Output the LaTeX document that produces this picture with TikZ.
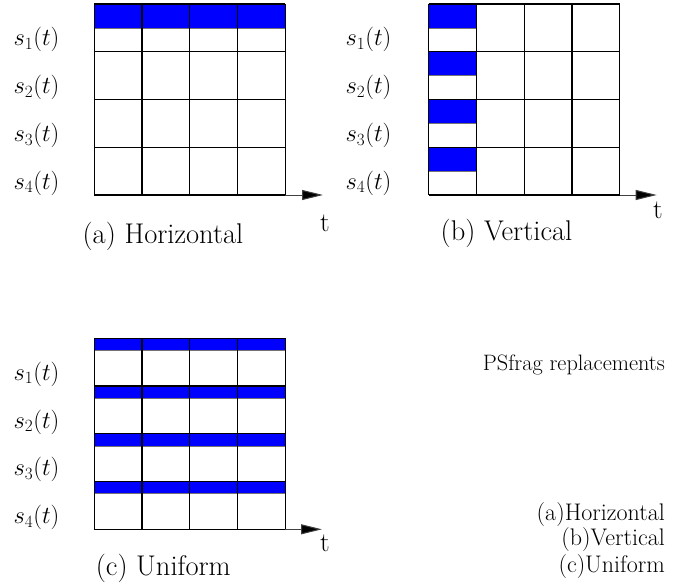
\RequirePackage{fix-cm}
\documentclass[tikz,border=0pt]{standalone}
\usepackage[no-math]{fontspec}
\usetikzlibrary{arrows.meta}
\definecolor{fillblue}{RGB}{0,0,255}
\tikzset{
  gridline/.style={line width=1.2pt, black},
  halfline/.style={line width=0.6pt, black!55},
  bluecell/.style={fill=fillblue},
  timeaxis/.style={line width=1pt, black!75, -{Triangle[length=21pt,width=10pt,fill=black]}},
  siglabel/.style={inner sep=0pt, anchor=base, font=\fontsize{24.5}{28}\selectfont},
  caption/.style={inner sep=0pt, anchor=base, font=\fontsize{28.5}{32}\selectfont},
  tlabel/.style={inner sep=0pt, anchor=base, font=\fontsize{27}{32}\selectfont},
  sidehead/.style={inner sep=0pt, anchor=base east, font=\fontsize{22.3}{27}\selectfont},
  sidetext/.style={inner sep=0pt, anchor=base east, font=\fontsize{24}{27}\selectfont},
}
\begin{document}
\begin{tikzpicture}[x=1pt,y=-1pt]
\useasboundingbox (0,0) rectangle (680,586);
\def\cw{47.75}
% ---------- (a) Horizontal ----------
\fill[bluecell] (94.3,4) rectangle (285.3,28);
\draw[halfline] (94.3,28) -- (285.3,28);
\foreach \i in {0,...,4} {
  \draw[gridline] (94.3+\i*\cw,4) -- (94.3+\i*\cw,195);
  \draw[gridline] (94.3,4+\i*\cw) -- (285.3,4+\i*\cw);
}
\coordinate (aO) at (285.3,195);
\coordinate (aT) at (323,195);
\draw[timeaxis] (aO) -- (aT);
\node[siglabel] (as1) at (36.5,46) {$s_1(t)$};
\node[siglabel] (as2) at (36.5,93.75) {$s_2(t)$};
\node[siglabel] (as3) at (36.5,141.5) {$s_3(t)$};
\node[siglabel] (as4) at (36.5,189.25) {$s_4(t)$};
\node[tlabel] (at) at (325,231.7) {t};
\node[caption] (acap) at (163,243.3) {(a) Horizontal};
% ---------- (b) Vertical ----------
\foreach \r in {0,...,3} {
  \fill[bluecell] (428.7,4+\r*\cw) rectangle (476.45,28+\r*\cw);
  \draw[halfline] (428.7,28+\r*\cw) -- (476.45,28+\r*\cw);
}
\foreach \i in {0,...,4} {
  \draw[gridline] (428.7+\i*\cw,4) -- (428.7+\i*\cw,195);
  \draw[gridline] (428.7,4+\i*\cw) -- (619.7,4+\i*\cw);
}
\coordinate (bO) at (619.7,195);
\coordinate (bT) at (656.7,195);
\draw[timeaxis] (bO) -- (bT);
\node[siglabel] (bs1) at (368.5,46) {$s_1(t)$};
\node[siglabel] (bs2) at (368.5,93.75) {$s_2(t)$};
\node[siglabel] (bs3) at (368.5,141.5) {$s_3(t)$};
\node[siglabel] (bs4) at (368.5,189.25) {$s_4(t)$};
\node[tlabel] (bt) at (658,218.3) {t};
\node[caption] (bcap) at (506.5,240) {(b) Vertical};
% ---------- (c) Uniform ----------
\foreach \r in {0,...,3} {
  \fill[bluecell] (94.3,338.3+\r*\cw) rectangle (285.3,350.3+\r*\cw);
  \draw[halfline] (94.3,350.3+\r*\cw) -- (285.3,350.3+\r*\cw);
}
\foreach \i in {0,...,4} {
  \draw[gridline] (94.3+\i*\cw,338.3) -- (94.3+\i*\cw,529.3);
  \draw[gridline] (94.3,338.3+\i*\cw) -- (285.3,338.3+\i*\cw);
}
\coordinate (cO) at (285.3,529.3);
\coordinate (cT) at (322,529.3);
\draw[timeaxis] (cO) -- (cT);
\node[siglabel] (cs1) at (36.5,380.3) {$s_1(t)$};
\node[siglabel] (cs2) at (36.5,428) {$s_2(t)$};
\node[siglabel] (cs3) at (36.5,475.8) {$s_3(t)$};
\node[siglabel] (cs4) at (36.5,523.5) {$s_4(t)$};
\node[tlabel] (ct) at (325,551.7) {t};
\node[caption] (ccap) at (163.3,575) {(c) Uniform};
% ---------- side text ----------
\node[sidehead] (ps) at (665,370.7) {PSfrag replacements};
\node[sidetext] (rh) at (665,520) {(a)Horizontal};
\node[sidetext] (rv) at (665,545.7) {(b)Vertical};
\node[sidetext] (ru) at (665,572.3) {(c)Uniform};
\end{tikzpicture}
\end{document}
